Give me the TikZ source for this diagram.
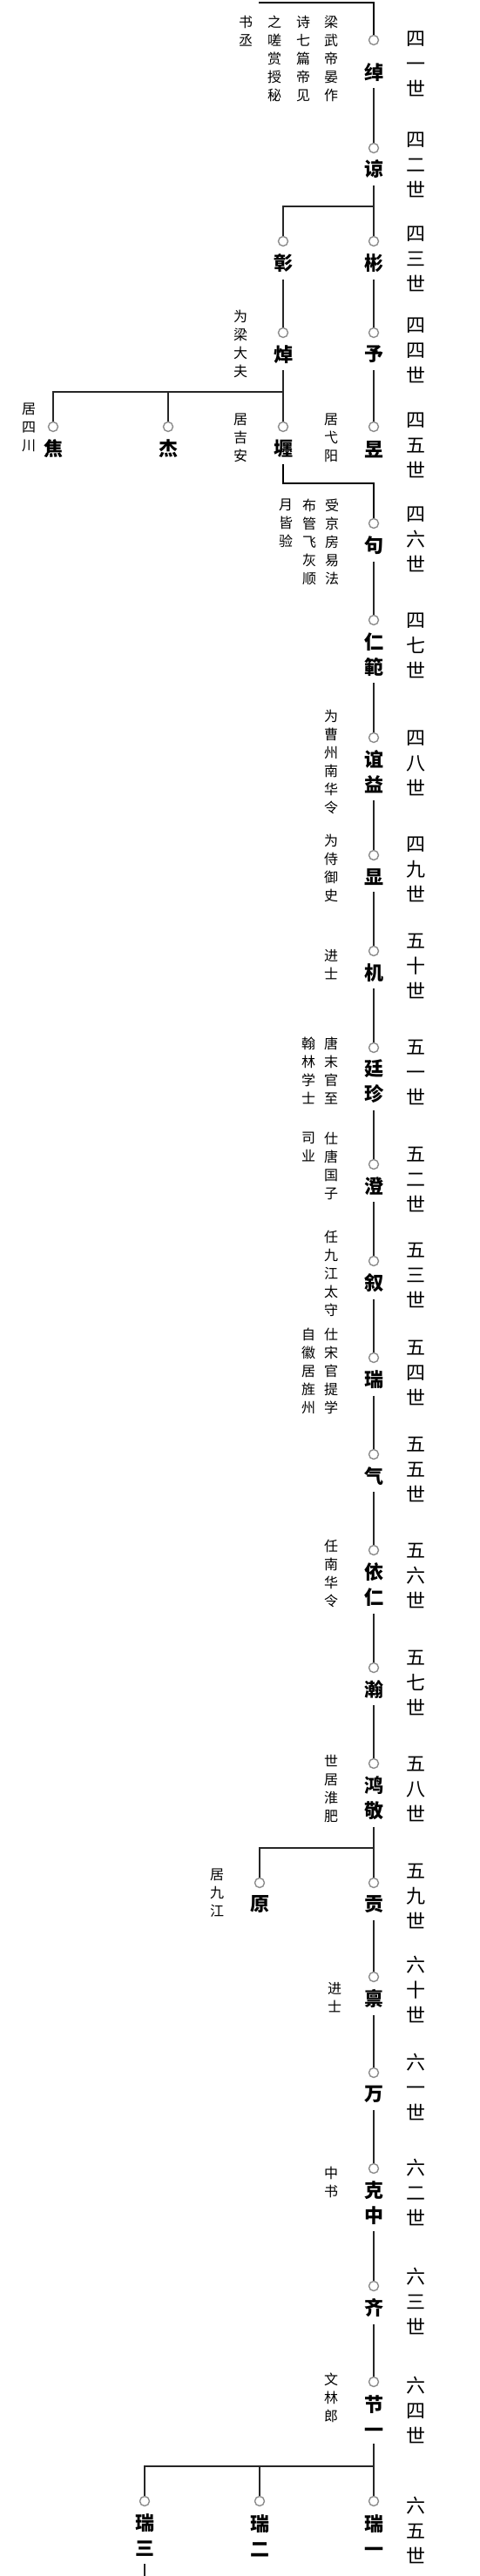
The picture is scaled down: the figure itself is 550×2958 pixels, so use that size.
\documentclass[tikz,border=0pt]{standalone}
\usepackage{fontspec}
\newfontfamily\cjk{Noto Sans CJK SC}
\usetikzlibrary{positioning}

\tikzset{
  dot/.style={circle, draw=black!45, line width=1.4pt, fill=white, minimum size=11pt, inner sep=0pt},
  pname/.style={font=\cjk\bfseries\fontsize{22}{29}\selectfont, align=center, inner sep=0pt, outer ysep=8pt},
  gen/.style={font=\cjk\fontsize{22}{29}\selectfont, align=center, inner sep=0pt},
  note/.style={font=\cjk\fontsize{16}{21}\selectfont, align=center, inner sep=0pt, anchor=north},
  link/.style={line width=1.1pt, draw=black!85},
  jump/.style={line width=2pt, draw=black},
}

\begin{document}
\begin{tikzpicture}[x=1pt, y=-1pt]
\useasboundingbox (0,0) rectangle (550,2958);

% persons: circle + name
\foreach \id/\x/\y/\ny/\nm in {
  chuo/429/46/83/绰, liang/429/170/194/谅,
  zhang/325/277/302/彰, bin/429/277/302/彬,
  zhuo/325/382/407/焯, yu/429/382/407/予,
  jiao/61/490/515/焦, jie/193/490/515/杰, chan/325/490/515/壥, yu2/429/490/516/昱,
  ju/429/601/626/句, renfan/429/712/751.5/{仁\\範}, yiyi/429/847/886.5/{谊\\益},
  xian/429/982/1007/显, ji/429/1092/1117/机, tingzhen/429/1203/1242/{廷\\珍},
  cheng/429/1337/1362/澄, xu/429/1448/1473/叙, rui/429/1559/1584/瑞,
  qi/429/1670/1695/气, yiren/429/1780/1819.5/{依\\仁}, han/429/1915/1940/瀚,
  hongjing/429/2025/2064.5/{鸿\\敬}, yuan/298/2162/2187/原, gong/429/2162/2187/贡,
  bing/429/2270/2295/禀, wan/429/2380/2405/万, kezhong/429/2490/2529.5/{克\\中},
  qi2/429/2625/2650/齐, jieyi/429/2735/2774.5/{节\\一},
  rui1/429/2872/2911.5/{瑞\\一}, rui2/298/2872/2911.5/{瑞\\二}, rui3/166/2872/2911.5/{瑞\\三}} {
  \node[dot] (\id) at (\x,\y) {};
  \node[pname] (\id-n) at (\x,\ny) {\nm};
}

% generation column
\foreach \g/\y [count=\k] in {
  四\\一\\世/73, 四\\二\\世/189, 四\\三\\世/297, 四\\四\\世/402, 四\\五\\世/511,
  四\\六\\世/619, 四\\七\\世/741, 四\\八\\世/876, 四\\九\\世/998, 五\\十\\世/1109,
  五\\一\\世/1231, 五\\二\\世/1354, 五\\三\\世/1464, 五\\四\\世/1576, 五\\五\\世/1687,
  五\\六\\世/1809, 五\\七\\世/1932, 五\\八\\世/2054, 五\\九\\世/2177, 六\\十\\世/2284,
  六\\一\\世/2396, 六\\二\\世/2517, 六\\三\\世/2642, 六\\四\\世/2767, 六\\五\\世/2905}
  \node[gen] (gen\k) at (477,\y) {\g};

% notes
\node[note] (n1a) at (380,18) {梁\\武\\帝\\晏\\作};
\node[note] (n1b) at (348,18) {诗\\七\\篇\\帝\\见};
\node[note] (n1c) at (315,18) {之\\嗟\\赏\\授\\秘};
\node[note] (n1d) at (282,18) {书\\丞};
\node[note] (n2) at (276,356) {为\\梁\\大\\夫};
\node[note] (n3) at (33,463) {居\\四\\川};
\node[note] (n4) at (276,475) {居\\吉\\安};
\node[note] (n5) at (380,475) {居\\弋\\阳};
\node[note] (n6a) at (381,573) {受\\京\\房\\易\\法};
\node[note] (n6b) at (355,573) {布\\管\\飞\\灰\\顺};
\node[note] (n6c) at (328,573) {月\\皆\\验};
\node[note] (n7) at (380,815) {为\\曹\\州\\南\\华\\令};
\node[note] (n8) at (380,958) {为\\侍\\御\\史};
\node[note] (n9) at (380,1090) {进\\士};
\node[note] (n10a) at (380,1191) {唐\\末\\官\\至};
\node[note] (n10b) at (354,1191) {翰\\林\\学\\士};
\node[note] (n11a) at (380,1300) {仕\\唐\\国\\子};
\node[note] (n11b) at (354,1300) {司\\业};
\node[note] (n12) at (380,1413) {任\\九\\江\\太\\守};
\node[note] (n13a) at (380,1525) {仕\\宋\\官\\提\\学};
\node[note] (n13b) at (354,1525) {自\\徽\\居\\旌\\州};
\node[note] (n14) at (380,1768) {任\\南\\华\\令};
\node[note] (n15) at (380,2015) {世\\居\\淮\\肥};
\node[note] (n16) at (249,2146) {居\\九\\江};
\node[note] (n17) at (384,2276) {进\\士};
\node[note] (n18) at (380,2488) {中\\书};
\node[note] (n19) at (380,2725) {文\\林\\郎};

% junctions
\coordinate (top) at (297,3);
\coordinate (j1) at (429,237);
\coordinate (j2) at (325,450);
\coordinate (j3) at (429,555);
\coordinate (j4) at (429,2122);
\coordinate (j5) at (429,2832);
\coordinate (tail) at (166,2958);

% connectors
\draw[jump] (top) -| (chuo);
\draw[jump] (chan-n) |- (j3) -- (ju);
\foreach \a/\b in {chuo-n/liang, zhang-n/zhuo, bin-n/yu, yu-n/yu2, ju-n/renfan,
  renfan-n/yiyi, yiyi-n/xian, xian-n/ji, ji-n/tingzhen, tingzhen-n/cheng,
  cheng-n/xu, xu-n/rui, rui-n/qi, qi-n/yiren, yiren-n/han, han-n/hongjing,
  gong-n/bing, bing-n/wan, wan-n/kezhong, kezhong-n/qi2, qi2-n/jieyi}
  \draw[link] (\a) -- (\b);
\draw[link] (liang-n) -- (j1) -| (zhang);
\draw[link] (j1) -- (bin);
\draw[link] (zhuo-n) -- (j2) -| (jiao);
\draw[link] (j2) -| (jie);
\draw[link] (j2) -- (chan);
\draw[link] (hongjing-n) -- (j4) -| (yuan);
\draw[link] (j4) -- (gong);
\draw[link] (jieyi-n) -- (j5) -| (rui3);
\draw[link] (j5) -| (rui2);
\draw[link] (j5) -- (rui1);
\draw[link] (rui3-n) -- (tail);

\end{tikzpicture}
\end{document}
